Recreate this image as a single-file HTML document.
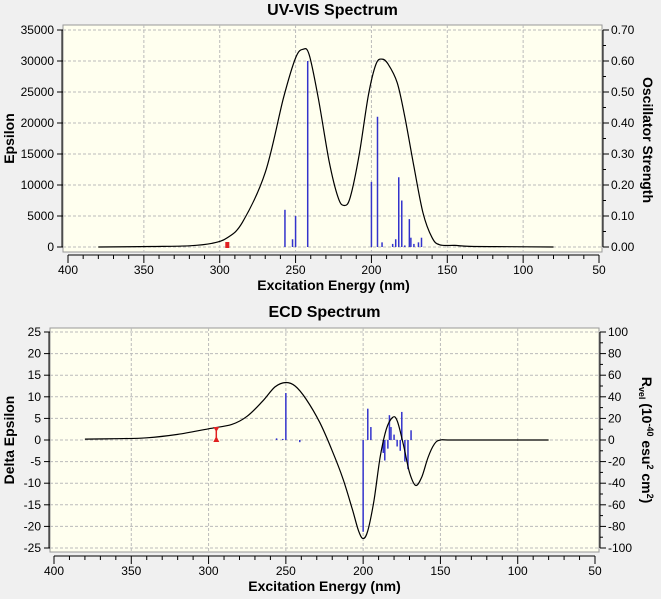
<!DOCTYPE html><html><head><meta charset="utf-8"><style>body{margin:0;background:#f0f0f0}svg{display:block;font-family:"Liberation Sans",sans-serif}</style></head><body>
<svg id="s" width="661" height="599" xmlns="http://www.w3.org/2000/svg"></svg>
<script>
const S=document.getElementById('s');let h='';
function cr(pts){let d='M'+pts[0][0].toFixed(1)+','+pts[0][1].toFixed(1);for(let i=0;i<pts.length-1;i++){const p0=pts[i-1]||pts[i],p1=pts[i],p2=pts[i+1],p3=pts[i+2]||p2;d+=' C'+(p1[0]+(p2[0]-p0[0])/6).toFixed(1)+','+(p1[1]+(p2[1]-p0[1])/6).toFixed(1)+' '+(p2[0]-(p3[0]-p1[0])/6).toFixed(1)+','+(p2[1]-(p3[1]-p1[1])/6).toFixed(1)+' '+p2[0].toFixed(1)+','+p2[1].toFixed(1);}return d;}
function panel(o){
 const {L,R,T,B,x400,x50,yTop,yBot,vTop,vBot,ruler,title,titleY,ylab,yTicks,rTicks,rlabHtml}=o;
 const X=nm=>x400+(400-nm)*(x50-x400)/350, Y=v=>yTop+(vTop-v)*(yBot-yTop)/(vTop-vBot);
 h+=`<text x="${(L+R)/2}" y="${titleY}" font-size="16" font-weight="bold" text-anchor="middle">${title}</text>`;
 h+=`<rect x="${L}" y="${T}" width="${R-L}" height="${B-T}" fill="#ffffef" stroke="#999" stroke-width="1"/>`;
 for(let nm=350;nm>50;nm-=50)h+=`<line x1="${X(nm)}" y1="${T}" x2="${X(nm)}" y2="${B}" stroke="#bbb" stroke-dasharray="3,2"/>`;
 yTicks.forEach(v=>{const y=Y(v);h+=`<line x1="${L}" y1="${y}" x2="${R}" y2="${y}" stroke="#bbb" stroke-dasharray="3,2"/><line x1="${L-6}" y1="${y}" x2="${L}" y2="${y}" stroke="#000"/><text x="${L-9}" y="${y+4}" font-size="12" text-anchor="end">${v}</text>`;});
 h+=`<line x1="${L-1}" y1="${Y(vTop)}" x2="${L-1}" y2="${Y(vBot)}" stroke="#000"/>`;
 h+=`<line x1="${R+1}" y1="${Y(vTop)}" x2="${R+1}" y2="${Y(vBot)}" stroke="#000"/>`;
 const n=rTicks.length;rTicks.forEach((t,i)=>{const y=yTop+i*(yBot-yTop)/(n-1);h+=`<line x1="${R+1}" y1="${y}" x2="${R+7}" y2="${y}" stroke="#000"/><text x="${R+9}" y="${y+4}" font-size="12">${t}</text>`;if(i<n-1){const y2=y+(yBot-yTop)/(n-1)/2;h+=`<line x1="${R+1}" y1="${y2}" x2="${R+4}" y2="${y2}" stroke="#000"/>`;}});
 h+=`<line x1="${x400}" y1="${ruler}" x2="${x50}" y2="${ruler}" stroke="#000"/>`;
 for(let nm=400;nm>=50;nm-=10){const mj=nm%50==0;h+=`<line x1="${X(nm)}" y1="${ruler}" x2="${X(nm)}" y2="${ruler+(mj?8:4)}" stroke="#000"/>`;if(mj)h+=`<text x="${X(nm)}" y="${ruler+19}" font-size="12" text-anchor="middle">${nm}</text>`;}
 h+=`<text x="${(x400+x50)/2}" y="${ruler+35}" font-size="14" font-weight="bold" text-anchor="middle">Excitation Energy (nm)</text>`;
 h+=`<text transform="translate(14,${(T+B)/2}) rotate(-90)" font-size="14" font-weight="bold" text-anchor="middle">${ylab}</text>`;
 h+=rlabHtml;
 return {X,Y};
}
let p=panel({L:63,R:602,T:25,B:252,x400:68,x50:599,yTop:30,yBot:247,vTop:35000,vBot:0,ruler:255,title:'UV-VIS Spectrum',titleY:15,ylab:'Epsilon',
yTicks:[0,5000,10000,15000,20000,25000,30000,35000],rTicks:['0.70','0.60','0.50','0.40','0.30','0.20','0.10','0.00'],
rlabHtml:`<text transform="translate(643,140) rotate(90)" font-size="14" font-weight="bold" text-anchor="middle">Oscillator Strength</text>`});
[[257,.12],[252,.025],[250,.1],[242,.6],[200,.21],[196,.42],[193,.015],[186,.01],[184,.025],[182,.225],[180,.15],[178,.005],[175,.09],[174,.03],[172,.01],[169,.015],[167,.03]].forEach(([nm,f])=>{h+=`<line x1="${p.X(nm)}" y1="${p.Y(0)}" x2="${p.X(nm)}" y2="${p.Y(f*50000)}" stroke="#3333cc" stroke-width="1.5"/>`;});
h+=`<path d="${cr([[380,0],[345,80],[320,200],[305,600],[295,1500],[285,4000],[270,12000],[258,24000],[250,30500],[245,31900],[241,31000],[235,24000],[228,14000],[222,8000],[218,6700],[214,8000],[208,15000],[202,24500],[197,29500],[193,30300],[189,29500],[183,26500],[178,21000],[172,13000],[166,5500],[160,1500],[155,350],[145,250],[135,100],[110,50],[80,0]].map(([a,b])=>[p.X(a),p.Y(b)]))}" fill="none" stroke="#000" stroke-width="1.2"/>`;
h+=`<rect x="${p.X(295)-2}" y="242" width="4" height="6" fill="#e02020"/>`;
p=panel({L:50,R:599,T:328,B:552,x400:54,x50:595,yTop:332,yBot:548,vTop:25,vBot:-25,ruler:556,title:'ECD Spectrum',titleY:317,ylab:'Delta Epsilon',
yTicks:[25,20,15,10,5,0,-5,-10,-15,-20,-25],rTicks:['100','80','60','40','20','0','-20','-40','-60','-80','-100'],
rlabHtml:`<text transform="translate(642,440) rotate(90)" font-size="14" font-weight="bold" text-anchor="middle">R<tspan font-size="9" dy="3">vel</tspan><tspan dy="-3"> (10</tspan><tspan font-size="9" dy="-5">-40</tspan><tspan dy="5"> esu</tspan><tspan font-size="9" dy="-5">2</tspan><tspan dy="5"> cm</tspan><tspan font-size="9" dy="-5">2</tspan><tspan dy="5">)</tspan></text>`});
[[256,1.5],[252,1],[250,43.5],[241,-2],[200,-85],[197,29],[195,12],[187,-12],[186,-19],[184,-8],[183,23],[182,12],[180,5],[178,-6],[176,-10],[175,26],[173,-20],[171,-27],[169,9]].forEach(([nm,r])=>{h+=`<line x1="${p.X(nm)}" y1="${p.Y(0)}" x2="${p.X(nm)}" y2="${p.Y(r/4)}" stroke="#3333cc" stroke-width="1.5"/>`;});
h+=`<path d="${cr([[380,0.2],[360,0.3],[340,0.5],[320,1.3],[300,2.6],[285,3.6],[275,5.5],[265,9],[257,12.3],[250,13.3],[244,12.5],[237,9.5],[228,4],[220,-2.5],[213,-9],[207,-16],[203,-21],[200,-22.8],[197,-21],[193,-14],[189,-4],[185,2.5],[181,5.2],[178,4.5],[174,-1],[170,-7.5],[166,-10.5],[162,-8.5],[158,-4],[154,-1],[150,0],[140,0],[80,0]].map(([a,b])=>[p.X(a),p.Y(b)]))}" fill="none" stroke="#000" stroke-width="1.2"/>`;
const rx=p.X(295);h+=`<line x1="${rx}" y1="428" x2="${rx}" y2="440" stroke="#e02020" stroke-width="1.5"/><path d="M${rx-3},427 L${rx+3},427 L${rx},432Z M${rx-3},442 L${rx+3},442 L${rx},436Z" fill="#e02020"/>`;
S.innerHTML=h;
</script></body></html>
